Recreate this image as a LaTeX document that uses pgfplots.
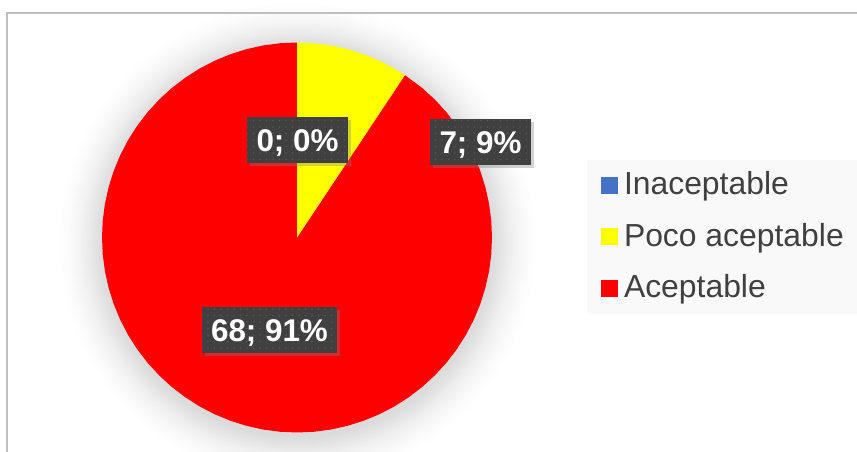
\documentclass[border=0pt]{standalone}
\usepackage{fontspec}
\setmainfont{Liberation Sans}
\usepackage{pgfplots}
\pgfplotsset{compat=1.18}
\usepackage{pgfplotstable}
\usetikzlibrary{patterns.meta,shadows}
\definecolor{cInac}{HTML}{4472C4}
\definecolor{cPoco}{HTML}{FFFF00}
\definecolor{cAcep}{HTML}{FF0000}
\definecolor{txtgray}{HTML}{404040}
\definecolor{lblbg}{HTML}{404040}
\definecolor{lbldot}{HTML}{565656}
\definecolor{framegray}{HTML}{BFBFBF}
\definecolor{legbg}{HTML}{F9F9F9}
% radial glow: 25bp corresponds to 600 units (half-side of the shaded square)
\pgfdeclareradialshading{pieglow}{\pgfpointorigin}{color(0bp)=(black!14); color(8.125bp)=(black!14); color(8.45bp)=(black!11); color(8.8bp)=(black!7); color(9.2bp)=(black!4); color(9.6bp)=(black!1.5); color(10bp)=(white); color(50bp)=(white)}
\tikzset{lbl/.style={fill=lblbg, text=white, font=\bfseries\fontsize{31.5}{31.5}\selectfont,
    minimum height=46bp, inner sep=0pt, text height=22.5bp, text depth=0bp,
    drop shadow={shadow xshift=3bp, shadow yshift=-3.5bp, opacity=0.35},
    postaction={pattern={Dots[radius=0.8bp,distance=6.5bp]}, pattern color=lbldot}}}

% values: Inaceptable 0, Poco aceptable 7, Aceptable 68 (total 75)
\pgfplotstableread{
category value
Inaceptable 0
Poco 7
Aceptable 68
}\piedata

\begin{document}
\begin{tikzpicture}
\begin{axis}[
  scale only axis, width=857bp, height=452bp,
  xmin=-297, xmax=560, ymin=-214.5, ymax=237.5,
  hide axis, clip=true,
  legend style={at={(axis cs:304,64.5)}, anchor=north west, draw=none, fill=none,
    inner sep=0pt, outer sep=0pt, font=\fontsize{32}{32}\selectfont, text=txtgray,
    column sep=6bp, row sep=25.9bp,
    nodes={inner sep=0pt, text height=22bp, text depth=3.4bp}},
  legend cell align=left,
  legend image code/.code={\fill[#1] (0bp,-8.5bp) rectangle (17bp,8.5bp);},
]
% soft glow around the pie
\shade[shading=pieglow] (axis cs:-600,-604) rectangle (axis cs:600,596);
% chart frame and legend background
\draw[framegray, line width=1.3bp] (axis cs:-290,-500) rectangle (axis cs:700,224.5);
\fill[legbg] (axis cs:290,77.5) rectangle (axis cs:700,-76.5);

\addlegendimage{fill=cInac, draw=none}\addlegendentry{Inaceptable}
\addlegendimage{fill=cPoco, draw=none}\addlegendentry{Poco aceptable}
\addlegendimage{fill=cAcep, draw=none}\addlegendentry{Aceptable}

% Aceptable: 68 of 75 -> 327.36 degrees, clockwise from 56.4 to -270
\addplot[fill=cAcep, draw=none, data cs=polar, forget plot] coordinates {
(0,0) (56.4,195) (50,195) (45,195) (40,195) (35,195) (30,195) (25,195) (20,195)
(15,195) (10,195) (5,195) (0,195) (-5,195) (-10,195) (-15,195) (-20,195)
(-25,195) (-30,195) (-35,195) (-40,195) (-45,195) (-50,195) (-55,195) (-60,195)
(-65,195) (-70,195) (-75,195) (-80,195) (-85,195) (-90,195) (-95,195) (-100,195)
(-105,195) (-110,195) (-115,195) (-120,195) (-125,195) (-130,195) (-135,195)
(-140,195) (-145,195) (-150,195) (-155,195) (-160,195) (-165,195) (-170,195)
(-175,195) (-180,195) (-185,195) (-190,195) (-195,195) (-200,195) (-205,195)
(-210,195) (-215,195) (-220,195) (-225,195) (-230,195) (-235,195) (-240,195)
(-245,195) (-250,195) (-255,195) (-260,195) (-265,195) (-270,195) (0,0)
};
% Poco aceptable: 7 of 75 -> 33.6 degrees, from 90 to 56.4
\addplot[fill=cPoco, draw=none, data cs=polar, forget plot] coordinates {
(0,0) (90,195) (85,195) (80,195) (75,195) (70,195) (65,195) (60,195) (56.4,195) (0,0)
};

% data labels
\node[lbl, minimum width=101bp] at (axis cs:0.5,97.5) {0; 0\%};
\node[lbl, minimum width=101bp] at (axis cs:183.5,95.5) {7; 9\%};
\node[lbl, minimum width=135bp] at (axis cs:-27.5,-92.5) {68; 91\%};
\end{axis}
\pgfresetboundingbox
\path (current axis.south west) rectangle (current axis.north east);
\end{tikzpicture}
\end{document}
